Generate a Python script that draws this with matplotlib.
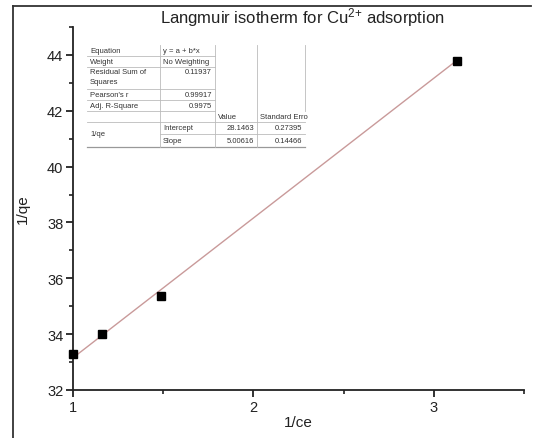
import matplotlib
matplotlib.use("Agg")
import matplotlib.pyplot as plt
from matplotlib.lines import Line2D
from matplotlib.ticker import MultipleLocator
import numpy as np

plt.rcParams['font.family'] = ['Liberation Sans', 'DejaVu Sans']
plt.rcParams['mathtext.default'] = 'regular'

# data
inv_ce = [1.0, 1.163, 1.49, 3.13]
inv_qe = [33.3, 34.02, 35.35, 43.80]

# fit parameters (from the table in the chart)
intercept = 28.1463
slope = 5.00616
intercept_err = 0.27395
slope_err = 0.14466
rss = "0.11937"
pearson_r = "0.99917"
adj_r2 = "0.9975"

W, H = 542, 439
fig = plt.figure(figsize=(W / 100, H / 100), dpi=100)


def px(x, y):
    # pixel position -> figure fraction
    return x / W, 1 - y / H


ax = fig.add_axes([73 / W, 1 - 391 / H, (524 - 73) / W, (391 - 28) / H])

xf = np.array([min(inv_ce), max(inv_ce)])
ax.plot(xf, intercept + slope * xf, color='#c99a9a', lw=1.0, zorder=2)
ax.plot(inv_ce, inv_qe, 's', color='black', ms=5.5, zorder=3, clip_on=False)

ax.set_xlim(1, 3.5)
ax.set_ylim(32, 45)
ax.xaxis.set_major_locator(MultipleLocator(1))
ax.xaxis.set_minor_locator(MultipleLocator(0.5))
ax.yaxis.set_major_locator(MultipleLocator(2))
ax.yaxis.set_minor_locator(MultipleLocator(1))
ax.spines['top'].set_visible(False)
ax.spines['right'].set_visible(False)
for s in ('left', 'bottom'):
    ax.spines[s].set_linewidth(1.3)
    ax.spines[s].set_color('#222222')
ax.tick_params(which='major', direction='out', length=5, width=1.3, labelsize=10.5,
               colors='#222222', pad=2)
ax.tick_params(which='minor', direction='out', length=3, width=1.2, colors='#222222')
ax.set_xlabel('1/ce', fontsize=11, color='#222222', labelpad=1)
ax.set_ylabel('1/qe', fontsize=11, color='#222222', labelpad=12)

fig.text(*px(302, 18), r'Langmuir isotherm for Cu$^{2{+}}$ adsorption',
         ha='center', va='center', fontsize=12, color='#222222')

# outer frame (left and top edges of the screenshot)
fc = '#333333'
fig.add_artist(Line2D([13 / W, 13 / W], [0, 1 - 7 / H], color=fc, lw=1.3))
fig.add_artist(Line2D([13 / W, 531 / W], [1 - 7 / H, 1 - 7 / H], color=fc, lw=1.3))

# fit result table
c0, c1, c2, c3, c4 = 87, 160, 215, 257, 305
rows = [46, 57, 68, 90, 101, 112, 123, 135, 148]
gc = '#bbbbbb'
tc = '#333333'
fs = 5.5


def hline(y, x0, x1):
    fig.add_artist(Line2D([x0 / W, x1 / W], [1 - y / H, 1 - y / H], color=gc, lw=0.6))


def vline(x, y0, y1):
    fig.add_artist(Line2D([x / W, x / W], [1 - y0 / H, 1 - y1 / H], color=gc, lw=0.6))


for y in rows[1:6]:
    hline(y, c0, c2)
hline(rows[6], c0, c4)
hline(rows[7], c1, c4)
fig.add_artist(Line2D([c0 / W, c4 / W], [1 - rows[8] / H, 1 - rows[8] / H],
                      color='#999999', lw=0.9))
vline(c1, rows[0], rows[8])
vline(c2, rows[0], rows[8])
vline(c3, rows[0], rows[8])
vline(c4, rows[0], rows[5])


def mid(i):
    return (rows[i] + rows[i + 1]) / 2


def txt(x, y, s, ha='left'):
    fig.text(*px(x, y), s, ha=ha, va='center', fontsize=fs, color=tc)


txt(c0 + 3, mid(0), 'Equation')
txt(c1 + 3, mid(0), 'y = a + b*x')
txt(c0 + 3, mid(1), 'Weight')
txt(c1 + 3, mid(1), 'No Weighting')
txt(c0 + 3, rows[2] + 5, 'Residual Sum of')
txt(c0 + 3, rows[2] + 15, 'Squares')
txt(c2 - 3, rows[2] + 5, rss, ha='right')
txt(c0 + 3, mid(3), "Pearson's r")
txt(c2 - 3, mid(3), pearson_r, ha='right')
txt(c0 + 3, mid(4), 'Adj. R-Square')
txt(c2 - 3, mid(4), adj_r2, ha='right')
txt(c2 + 3, mid(5), 'Value')
txt(c3 + 3, mid(5), 'Standard Erro')
txt(c0 + 3, rows[7], '1/qe')
txt(c1 + 3, mid(6), 'Intercept')
txt(c3 - 3, mid(6), f'{intercept:.4f}', ha='right')
txt(c4 - 3, mid(6), f'{intercept_err:.5f}', ha='right')
txt(c1 + 3, mid(7), 'Slope')
txt(c3 - 3, mid(7), f'{slope:.5f}', ha='right')
txt(c4 - 3, mid(7), f'{slope_err:.5f}', ha='right')

fig.savefig('out.png', dpi=100)
